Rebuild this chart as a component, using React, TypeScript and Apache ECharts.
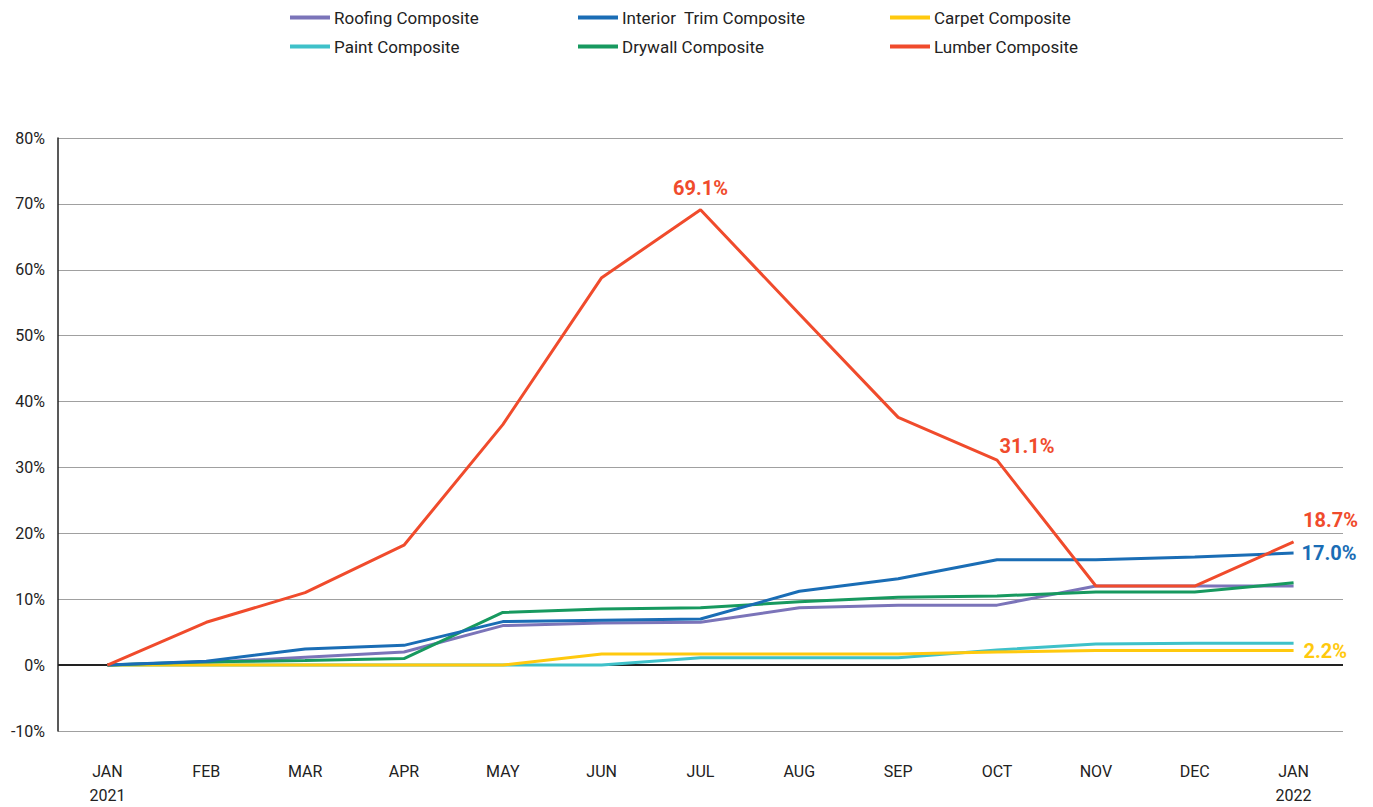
import React, { useEffect, useRef } from "react";
import * as echarts from "echarts";

const months = ["JAN\n2021", "FEB", "MAR", "APR", "MAY", "JUN", "JUL", "AUG", "SEP", "OCT", "NOV", "DEC", "JAN\n2022"];

const roofing = [0, 0.4, 1.2, 2.0, 6.0, 6.4, 6.5, 8.7, 9.1, 9.1, 12.0, 12.0, 12.0];
const interiorTrim = [0, 0.6, 2.45, 3.0, 6.6, 6.8, 7.0, 11.2, 13.1, 16.0, 16.0, 16.4, 17.0];
const carpet = [0, 0, 0, 0, 0, 1.7, 1.7, 1.7, 1.7, 2.0, 2.2, 2.2, 2.2];
const paint = [0, 0, 0, 0, 0, 0, 1.1, 1.1, 1.1, 2.3, 3.2, 3.3, 3.3];
const drywall = [0, 0.5, 0.7, 1.0, 8.0, 8.5, 8.7, 9.6, 10.3, 10.5, 11.1, 11.1, 12.5];
const lumber = [0, 6.5, 11.0, 18.2, 36.5, 58.8, 69.1, 53.3, 37.6, 31.1, 12.0, 12.0, 18.7];

const yTicks = [-10, 0, 10, 20, 30, 40, 50, 60, 70, 80];

const FONT = "Roboto, 'Noto Sans', sans-serif";

export default function App() {
  const ref = useRef<HTMLDivElement>(null);
  useEffect(() => {
    if (!ref.current) return;
    const chart = echarts.init(ref.current, null, { renderer: "svg" });

    const labelStyle = (color: string, extra: any) => ({
      show: true,
      color,
      fontFamily: FONT,
      fontWeight: "bold",
      fontSize: 20,
      formatter: (p: any) => Number(p.value).toFixed(1) + "%",
      ...extra,
    });

    const withLabels = (arr: number[], labels: Record<number, any>) =>
      arr.map((v, i) => (labels[i] ? { value: v, label: labels[i] } : v));

    const lumberShift: Record<number, { dx: number; dy: number }> = {
      9: { dx: 30, dy: 0 },
      12: { dx: 37, dy: -8 },
    };

    const seriesDefs = [
      { name: "Roofing Composite", color: "#7b74b9", data: roofing, labels: {} },
      { name: "Paint Composite", color: "#3fc1c9", data: paint, labels: {} },
      { name: "Carpet Composite", color: "#ffc90e", data: carpet, labels: { 12: labelStyle("#ffc90e", { position: "right", distance: 10 }) } },
      { name: "Drywall Composite", color: "#17995f", data: drywall, labels: {} },
      { name: "Interior  Trim Composite", color: "#1a6db5", data: interiorTrim, labels: { 12: labelStyle("#1a6db5", { position: "right", distance: 8 }) } },
      {
        name: "Lumber Composite",
        color: "#f04b2c",
        data: lumber,
        labels: {
          6: labelStyle("#f04b2c", { position: "top", distance: 12 }),
          9: labelStyle("#f04b2c", { position: "top", distance: 4 }),
          12: labelStyle("#f04b2c", { position: "top", distance: 4 }),
        },
      },
    ];

    const series: any[] = seriesDefs.map((s, idx) => ({
      name: s.name,
      type: "line",
      data: withLabels(s.data, s.labels),
      showSymbol: true,
      symbol: "circle",
      symbolSize: 0,
      lineStyle: { width: 3, color: s.color },
      itemStyle: { color: s.color },
      label: { show: false },
      labelLayout:
        s.name === "Lumber Composite"
          ? (p: any) => ({ hideOverlap: false, ...(lumberShift[p.dataIndex] || {}) })
          : { hideOverlap: false },
      z: 3 + idx,
      ...(idx === 0
        ? {
            markLine: {
              silent: true,
              symbol: "none",
              label: { show: false },
              lineStyle: { color: "#222", width: 2, type: "solid" },
              data: [{ yAxis: 0 }],
              z: 1,
            },
          }
        : {}),
    }));

    const legendPos: Record<string, [number, number]> = {
      "Roofing Composite": [290, 9],
      "Paint Composite": [290, 38],
      "Interior  Trim Composite": [578, 9],
      "Drywall Composite": [578, 38],
      "Carpet Composite": [890, 9],
      "Lumber Composite": [890, 38],
    };

    const legends = seriesDefs.map((s) => ({
      show: true,
      data: [{ name: s.name, icon: "rect" }],
      left: legendPos[s.name][0],
      top: legendPos[s.name][1],
      padding: 0,
      itemWidth: 40,
      itemHeight: 4,
      itemGap: 6,
      textStyle: { fontFamily: FONT, fontSize: 17, color: "#222", padding: [0, 0, 0, -1] },
      selectedMode: false,
    }));

    chart.setOption({
      animation: false,
      backgroundColor: "#fff",
      legend: legends,
      grid: { left: 58, right: 30, top: 138, bottom: 69 },
      xAxis: {
        type: "category",
        data: months,
        boundaryGap: true,
        axisLine: { show: false },
        axisTick: { show: false },
        axisLabel: {
          fontFamily: FONT,
          fontSize: 16,
          color: "#222",
          lineHeight: 24,
          margin: 28,
          interval: 0,
          verticalAlign: "top",
        },
      },
      yAxis: {
        type: "value",
        min: yTicks[0],
        max: yTicks[yTicks.length - 1],
        interval: 10,
        axisLine: { show: true, lineStyle: { color: "#222", width: 1.5 } },
        axisTick: { show: false },
        axisLabel: {
          fontFamily: FONT,
          fontSize: 16,
          color: "#222",
          margin: 13,
          formatter: (v: number) => v + "%",
        },
        splitLine: { show: true, lineStyle: { color: "#a0a0a0", width: 1 } },
      },
      series,
    });

    return () => chart.dispose();
  }, []);

  return <div ref={ref} style={{ width: 1373, height: 807, position: "absolute", left: 0, top: 0 }} />;
}
